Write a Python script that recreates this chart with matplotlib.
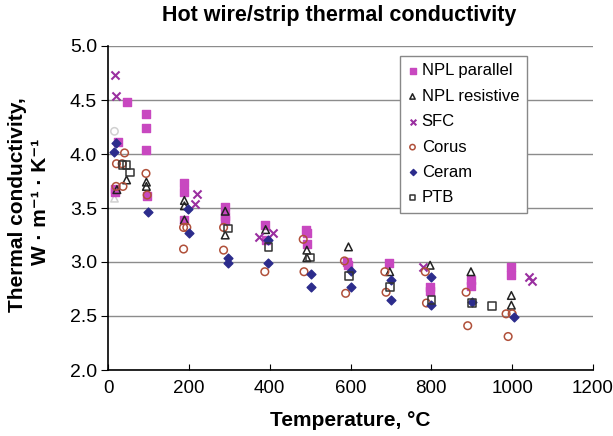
import matplotlib.pyplot as plt

plt.rcParams["font.family"] = ["Liberation Sans", "DejaVu Sans"]

# NPL parallel
npl_par_t = [25, 18, 18, 46, 94, 94, 94, 96, 189, 189, 189, 289, 289, 289,
             388, 390, 490, 492, 493, 592, 595, 695, 797, 797, 898, 898, 998, 998]
npl_par_k = [4.11, 3.68, 3.65, 4.48, 4.37, 4.24, 4.04, 3.61, 3.73, 3.65, 3.39, 3.51, 3.43, 3.39,
             3.34, 3.20, 3.30, 3.27, 3.17, 3.00, 2.97, 2.99, 2.77, 2.73, 2.83, 2.78, 2.95, 2.88]

# NPL resistive
npl_res_t = [22, 46, 95, 95, 189, 189, 189, 290, 290, 390, 492, 492, 595, 697, 797, 898, 998, 998]
npl_res_k = [3.67, 3.76, 3.74, 3.70, 3.57, 3.52, 3.39, 3.47, 3.25, 3.30, 3.11, 3.04, 3.14, 2.91,
             2.97, 2.91, 2.69, 2.60]

# SFC
sfc_t = [17, 20, 220, 216, 373, 408, 780, 1041, 1050]
sfc_k = [4.73, 4.54, 3.63, 3.54, 3.23, 3.27, 2.95, 2.86, 2.82]

# Corus
corus_t = [21, 20, 35, 41, 37, 94, 97, 187, 195, 187, 286, 286, 388, 483, 485, 585, 588,
           685, 688, 785, 788, 886, 890, 985, 1000, 990]
corus_k = [3.91, 3.70, 3.91, 4.01, 3.70, 3.82, 3.62, 3.32, 3.32, 3.12, 3.32, 3.11, 2.91, 3.21,
           2.91, 3.01, 2.71, 2.91, 2.72, 2.91, 2.62, 2.72, 2.41, 2.52, 2.52, 2.31]

# Ceram
ceram_t = [19, 16, 100, 199, 201, 297, 297, 397, 397, 502, 502, 600, 600, 700, 700, 800, 800, 900, 1005]
ceram_k = [4.10, 4.02, 3.46, 3.49, 3.27, 3.04, 2.99, 3.20, 2.99, 2.89, 2.77, 2.92, 2.77, 2.83, 2.65,
           2.86, 2.60, 2.63, 2.49]

# PTB
ptb_t = [36, 46, 55, 297, 397, 500, 597, 698, 800, 900, 950]
ptb_k = [3.90, 3.90, 3.83, 3.31, 3.14, 3.04, 2.87, 2.77, 2.65, 2.62, 2.59]

# pontos apagados perto da temperatura ambiente
faint_circ_t, faint_circ_k = [16], [4.21]
faint_tri_t, faint_tri_k = [16], [3.59]

W, H = 613, 436
fig, ax = plt.subplots(figsize=(W / 100, H / 100), dpi=100)
fig.subplots_adjust(left=108 / W, right=593 / W, top=1 - 46 / H, bottom=1 - 370 / H)

ax.grid(True, axis="y", color="#8c8c8c", linewidth=1.0)
ax.set_axisbelow(True)

ax.scatter(faint_circ_t, faint_circ_k, marker="o", s=28, facecolors="none",
           edgecolors="#d0d0d0", linewidths=1.1)
ax.scatter(faint_tri_t, faint_tri_k, marker="^", s=28, facecolors="none",
           edgecolors="#d0d0d0", linewidths=1.1)

ax.scatter(npl_par_t, npl_par_k, marker="s", s=30, color="#c848c0", label="NPL parallel", zorder=3)
ax.scatter(npl_res_t, npl_res_k, marker="^", s=30, facecolors="none", edgecolors="#222222",
           linewidths=1.1, label="NPL resistive", zorder=3)
ax.scatter(sfc_t, sfc_k, marker="x", s=34, color="#9a2fa0", linewidths=1.5, label="SFC", zorder=3)
ax.scatter(corus_t, corus_k, marker="o", s=30, facecolors="none", edgecolors="#b0503a",
           linewidths=1.1, label="Corus", zorder=3)
ax.scatter(ceram_t, ceram_k, marker="D", s=20, color="#2c2c8c", label="Ceram", zorder=3)
ax.scatter(ptb_t, ptb_k, marker="s", s=30, facecolors="none", edgecolors="#333333",
           linewidths=1.1, label="PTB", zorder=3)

ax.set_xlim(0, 1200)
ax.set_ylim(2.0, 5.0)
ax.set_xticks(range(0, 1201, 200))
ax.set_yticks([2.0, 2.5, 3.0, 3.5, 4.0, 4.5, 5.0])
ax.set_yticklabels([f"{v:.1f}" for v in [2.0, 2.5, 3.0, 3.5, 4.0, 4.5, 5.0]])
ax.tick_params(axis="y", labelsize=14, direction="out", length=5, pad=3)
ax.tick_params(axis="x", labelsize=13.5, direction="in", length=4, pad=7)

for lado in ["top", "right"]:
    ax.spines[lado].set_visible(False)
ax.spines["left"].set_linewidth(1.2)
ax.spines["bottom"].set_linewidth(1.2)

fig.text(339.5 / W, 1 - 15 / H, "Hot wire/strip thermal conductivity", fontsize=15.5,
         fontweight="bold", ha="center", va="center")
ax.set_xlabel("Temperature, \u00b0C", fontsize=15, fontweight="bold", labelpad=10)
fig.text(18 / W, 1 - 205 / H, "Thermal conductivity,", fontsize=15, fontweight="bold",
         rotation=90, ha="center", va="center")
fig.text(40 / W, 1 - 202 / H, "W \u00b7 m\u207b\u00b9 \u00b7 K\u207b\u00b9", fontsize=15,
         fontweight="bold", rotation=90, ha="center", va="center")

leg = ax.legend(loc="upper left", bbox_to_anchor=(400 / W, 1 - 56 / H),
                bbox_transform=fig.transFigure, borderaxespad=0, fontsize=12, frameon=True,
                fancybox=False, edgecolor="#888888", handletextpad=0.25, handlelength=0.6,
                labelspacing=0.62, borderpad=0.45, markerscale=0.7, framealpha=1)
leg.get_frame().set_linewidth(1.0)

fig.savefig("out.png", dpi=100)
